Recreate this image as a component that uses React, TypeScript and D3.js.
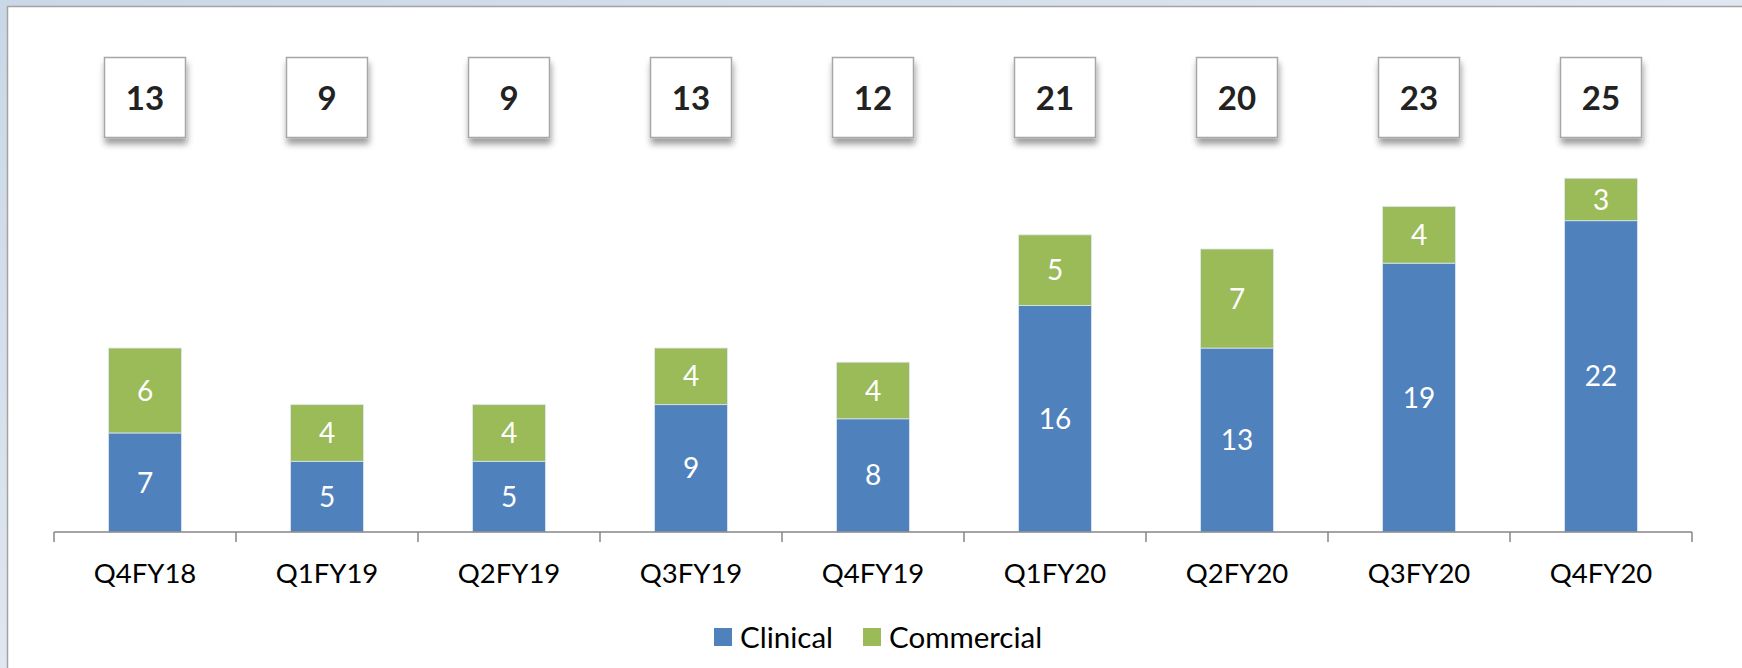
import React from 'react';
import * as d3 from 'd3';

const categories = ['Q4FY18', 'Q1FY19', 'Q2FY19', 'Q3FY19', 'Q4FY19', 'Q1FY20', 'Q2FY20', 'Q3FY20', 'Q4FY20'];
const clinical = [7, 5, 5, 9, 8, 16, 13, 19, 22];
const commercial = [6, 4, 4, 4, 4, 5, 7, 4, 3];
const totals = [13, 9, 9, 13, 12, 21, 20, 23, 25];
const seriesNames = ['Clinical', 'Commercial'];

const W = 1742;
const H = 668;
const BLUE = '#4f81bd';
const GREEN = '#9bbb59';
const FONT = 'Lato, "Open Sans", sans-serif';

const App: React.FC = () => {
  const x = d3.scaleBand<string>()
    .domain(categories)
    .range([54, 1692])
    .paddingInner(0.6)
    .paddingOuter(0.3);

  const y = d3.scaleLinear().domain([0, 30]).range([532, 107.5]);

  const step = x.step();
  const bw = x.bandwidth();
  const boundaries = categories.map(c => (x(c) ?? 0) + bw / 2 - step / 2);
  boundaries.push(boundaries[boundaries.length - 1] + step);

  const rows = categories.map((c, i) => ({ cat: c, Clinical: clinical[i], Commercial: commercial[i] }));
  const stacked = d3.stack<any>().keys(seriesNames)(rows);
  const colors = [BLUE, GREEN];

  // legend layout
  const legendY = 637;
  const legendItems = [
    { name: 'Clinical', color: BLUE, x: 714 },
    { name: 'Commercial', color: GREEN, x: 863 },
  ];

  return (
    <svg width={W} height={H} style={{ position: 'absolute', left: 0, top: 0 }} fontFamily={FONT}>
      <defs>
        <linearGradient id="bg" x1="0" y1="0" x2="1" y2="1">
          <stop offset="0" stopColor="#c9d7e6" />
          <stop offset="0.5" stopColor="#dfe7f0" />
          <stop offset="1" stopColor="#c4d3e3" />
        </linearGradient>
        <filter id="shadow" x="-20%" y="-20%" width="140%" height="150%">
          <feDropShadow dx="1" dy="6" stdDeviation="3" floodColor="#000" floodOpacity="0.38" />
        </filter>
      </defs>

      {/* background frame */}
      <rect x={0} y={0} width={W} height={H} fill="url(#bg)" />
      <rect x={7.5} y={6.5} width={W} height={H} fill="#ffffff" stroke="#a3a3a3" strokeWidth={1.5} />

      {/* stacked bars */}
      {stacked.map((layer, si) => (
        <g key={layer.key}>
          {layer.map((d, i) => {
            const y0 = y(d[0]);
            const y1 = y(d[1]);
            const val = d[1] - d[0];
            return (
              <g key={i}>
                <rect
                  x={x(categories[i])}
                  y={y1}
                  width={bw}
                  height={y0 - y1}
                  fill={colors[si]}
                  stroke="#dbe5f1"
                  strokeWidth={0.8}
                />
                <text
                  x={(x(categories[i]) ?? 0) + bw / 2}
                  y={(y0 + y1) / 2}
                  dy="0.36em"
                  textAnchor="middle"
                  fill="#ffffff"
                  fontSize={28}
                >
                  {val}
                </text>
              </g>
            );
          })}
        </g>
      ))}

      {/* axis */}
      <line x1={boundaries[0]} x2={boundaries[boundaries.length - 1]} y1={532} y2={532} stroke="#868686" strokeWidth={1.5} />
      {boundaries.map((b, i) => (
        <line key={i} x1={b} x2={b} y1={532} y2={542} stroke="#868686" strokeWidth={1.5} />
      ))}
      {categories.map(c => (
        <text key={c} x={(x(c) ?? 0) + bw / 2} y={583} textAnchor="middle" fontSize={27.5} fill="#000">
          {c}
        </text>
      ))}

      {/* total boxes */}
      {categories.map((c, i) => {
        const cx = (x(c) ?? 0) + bw / 2;
        return (
          <g key={c}>
            <rect x={cx - 40.5} y={57.5} width={81} height={80} fill="#ffffff" stroke="#a6a6a6" strokeWidth={1.5} filter="url(#shadow)" />
            <text x={cx} y={98} dy="0.36em" textAnchor="middle" fontSize={33} fontWeight={700} fill="#222">
              {totals[i]}
            </text>
          </g>
        );
      })}

      {/* legend */}
      {legendItems.map(l => (
        <g key={l.name}>
          <rect x={l.x} y={legendY - 9} width={18} height={18} fill={l.color} />
          <text x={l.x + 26} y={legendY} dy="0.36em" fontSize={29.5} fill="#000">
            {l.name}
          </text>
        </g>
      ))}
    </svg>
  );
};

export default App;
